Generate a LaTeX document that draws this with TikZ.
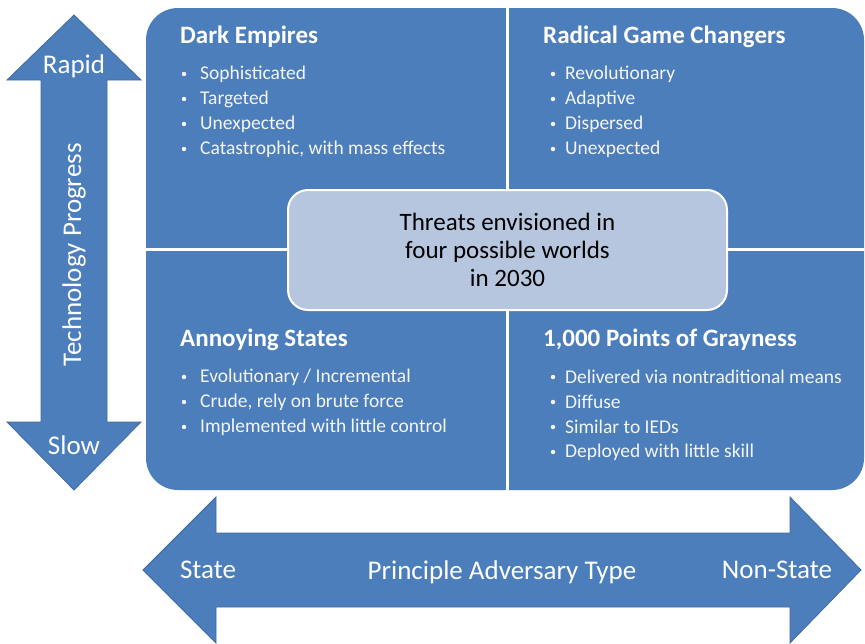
\documentclass[tikz,border=0pt]{standalone}
\usepackage{fontspec}
\setmainfont{Carlito}
\begin{document}
\begin{tikzpicture}[x=1pt,y=-1pt,
  quad/.style={fill=qblue},
  divider/.style={draw=white,line width=3pt},
  arrowshape/.style={fill=qblue,draw=qedge,line width=0.8pt},
  title/.style={anchor=west,text=white,font=\fontsize{25}{30}\selectfont\bfseries,inner sep=0pt},
  item/.style={anchor=west,text=white!92!gray,font=\fontsize{19.5}{23}\selectfont,inner sep=0pt},
  dot/.style={circle,fill=white!92!gray,inner sep=0pt,minimum size=4.5pt},
  lab/.style={text=white,font=\fontsize{27}{32}\selectfont,inner sep=0pt},
  centerbox/.style={rounded corners=20pt,fill=cblue,draw=white,line width=2pt,minimum width=439pt,minimum height=120pt,align=center,font=\fontsize{25}{28}\selectfont,text=black}
]
\definecolor{qblue}{HTML}{4B7EBB}
\definecolor{qedge}{HTML}{3F6C9F}
\definecolor{cblue}{HTML}{B7C6DF}
\useasboundingbox (0,0) rectangle (865,643);
\fill[white] (0,0) rectangle (865,643);
% quadrants
\fill[quad,rounded corners=32pt] (146,8) rectangle (864,490);
\coordinate (vt) at (507.5,8);
\coordinate (vb) at (507.5,490);
\coordinate (hl) at (146,249.5);
\coordinate (hr) at (864,249.5);
\draw[divider] (vt) -- (vb);
\draw[divider] (hl) -- (hr);
% center
\node[centerbox] (c) at (507.5,250) {Threats envisioned in\\four possible worlds\\in 2030};
% titles
\node[title] (t1) at (180,37) {Dark Empires};
\node[title] (t2) at (543,37) {Radical Game Changers};
\node[title] (t3) at (180,340) {Annoying States};
\node[title] (t4) at (543,340) {1,000 Points of Grayness};
% items
\foreach \txt [count=\i] in {Sophisticated,Targeted,Unexpected,{Catastrophic, with mass effects}}{
  \node[dot] (d1\i) at (184,{49+25*\i}) {};
  \node[item] (i1\i) at (200,{49+25*\i}) {\txt};
}
\foreach \txt [count=\i] in {Revolutionary,Adaptive,Dispersed,Unexpected}{
  \node[dot] (d2\i) at (553,{49+25*\i}) {};
  \node[item] (i2\i) at (565,{49+25*\i}) {\txt};
}
\foreach \txt [count=\i] in {Evolutionary / Incremental,{Crude, rely on brute force},Implemented with little control}{
  \node[dot] (d3\i) at (184,{352+25*\i}) {};
  \node[item] (i3\i) at (200,{352+25*\i}) {\txt};
}
\foreach \txt [count=\i] in {Delivered via nontraditional means,Diffuse,Similar to IEDs,Deployed with little skill}{
  \node[dot] (d4\i) at (553,{352+25*\i}) {};
  \node[item] (i4\i) at (565,{352+25*\i}) {\txt};
}
% vertical arrow
\draw[arrowshape] (74,15) -- (141,80) -- (107,80) -- (107,422) -- (141,422) -- (74,490) -- (7,422) -- (41,422) -- (41,80) -- (7,80) -- cycle;
\node[lab] (rapid) at (74,66) {Rapid};
\node[lab] (slow) at (74,445) {Slow};
\node[lab,rotate=90] (tp) at (74,255) {Technology Progress};
% horizontal arrow
\draw[arrowshape] (143,570) -- (216,497) -- (216,533) -- (790,533) -- (790,497) -- (861,570) -- (790,643) -- (790,607) -- (216,607) -- (216,643) -- cycle;
\node[lab] (state) at (208,570) {State};
\node[lab] (pat) at (502,572) {Principle Adversary Type};
\node[lab] (nonstate) at (777,570) {Non-State};
\end{tikzpicture}
\end{document}
